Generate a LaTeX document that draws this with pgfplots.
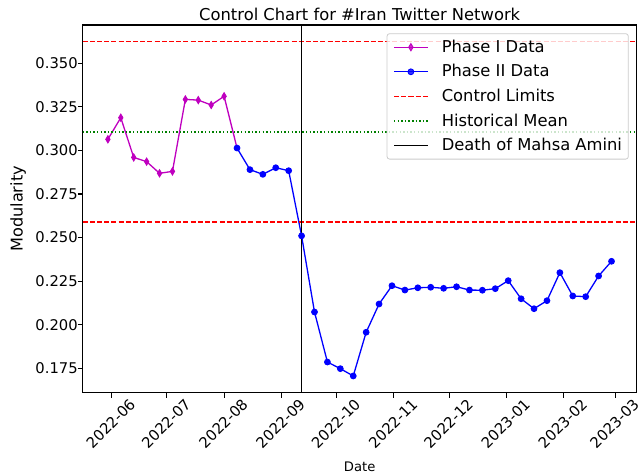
\documentclass[border=0pt]{standalone}
\usepackage{pgfplots}
\pgfplotsset{compat=1.18}
\usepackage{fontspec}
\setmainfont{DejaVu Sans}
\definecolor{mplm}{HTML}{BF00BF}
\definecolor{mplb}{HTML}{0000FF}
\definecolor{mplr}{HTML}{FF0000}
\definecolor{mplg}{HTML}{008000}
\pgfplotstableread{
x y
-2 0.3064
5 0.3188
12 0.2960
19 0.2936
26 0.2869
33 0.2880
40 0.3293
47 0.3289
54 0.3261
61 0.3311
}\phaseone
\pgfplotstableread{
x y
68 0.3014
75 0.2890
82 0.2863
89 0.2901
96 0.2884
103 0.2510
110 0.2073
117 0.1786
124 0.1748
131 0.1706
138 0.1957
145 0.2119
152 0.2224
159 0.2199
166 0.2212
173 0.2215
180 0.2209
187 0.2218
194 0.2199
201 0.2198
208 0.2207
215 0.2253
222 0.2149
229 0.2092
236 0.2138
243 0.2299
250 0.2165
257 0.2161
264 0.2280
271 0.2364
}\phasetwo
\begin{document}
\begin{tikzpicture}
\begin{axis}[
  at={(0,0)}, anchor=south west,
  scale only axis, width=554bp, height=367.7bp,
  xmin=-15.65, xmax=284.65, ymin=0.1610, ymax=0.3720,
  axis line style={line width=1.1bp},
  tick align=outside, xtick pos=bottom, ytick pos=left,
  major tick length=4.8bp,
  every tick/.style={black, line width=1.1bp},
  xtick={0,30,61,92,122,153,183,214,245,273},
  xticklabels={2022-06,2022-07,2022-08,2022-09,2022-10,2022-11,2022-12,2023-01,2023-02,2023-03},
  ytick={0.175,0.2,0.225,0.25,0.275,0.3,0.325,0.35},
  yticklabels={0.175,0.200,0.225,0.250,0.275,0.300,0.325,0.350},
  xticklabel style={font=\fontsize{14.8}{17}\selectfont, inner sep=0pt, xshift=17bp, anchor=north east, rotate=45},
  yticklabel style={font=\fontsize{14.8}{17}\selectfont, inner sep=0pt, anchor=east},
  title={Control Chart for \#Iran Twitter Network},
  every axis title/.style={at={(axis description cs:0.5,1)}, anchor=base, yshift=4.5bp, inner sep=0pt, font=\fontsize{16.4}{19}\selectfont},
  xlabel={Date},
  every axis x label/.style={at={(axis description cs:0.5,0)}, anchor=base, yshift=-78.5bp, inner sep=0pt, font=\fontsize{13.2}{16}\selectfont},
  ylabel={Modularity},
  every axis y label/.style={at={([xshift=-60bp]axis description cs:0,0.5)}, rotate=90, anchor=base, inner sep=0pt, font=\fontsize{16.2}{19}\selectfont},
  legend image code/.code={\draw[mark repeat=2, mark phase=2, #1] plot coordinates {(0bp,0bp) (16.85bp,0bp) (33.7bp,0bp)};},
  legend cell align=left,
  legend style={at={(axis description cs:1,1)}, anchor=north east, xshift=-8bp, yshift=-8.3bp,
    draw=black!20, line width=0.8bp, rounded corners=2.5bp, fill=white, fill opacity=0.8, text opacity=1,
    font=\fontsize{16.4}{19}\selectfont, inner xsep=6.3bp, inner ysep=4.5bp, row sep=6.6bp,
    nodes={inner sep=0pt, text height=14bp, text depth=4bp},
    /tikz/every odd column/.append style={column sep=13.3bp}},
]
\addplot[mplm, line width=1.3bp, forget plot] coordinates {(61,0.3311) (68,0.3014)};
\addplot[mplm, line width=1.3bp, mark=diamond*, mark size=3.6bp, mark options={xscale=0.8, solid, line width=0.9bp}] table[x=x, y=y] {\phaseone};
\addlegendentry{Phase I Data}
\addplot[mplb, line width=1.3bp, mark=*, mark size=2.9bp, mark options={solid, line width=0.9bp}] table[x=x, y=y] {\phasetwo};
\addlegendentry{Phase II Data}
\addplot[mplr, line width=1.4bp, dash pattern=on 5bp off 2.2bp] coordinates {(-15.65,0.3624) (284.65,0.3624)};
\addlegendentry{Control Limits}
\addplot[mplr, line width=1.4bp, dash pattern=on 5bp off 2.2bp, forget plot] coordinates {(-15.65,0.2590) (284.65,0.2590)};
\addplot[mplg, line width=1.4bp, dash pattern=on 1.4bp off 2.2bp] coordinates {(-15.65,0.3107) (284.65,0.3107)};
\addlegendentry{Historical Mean}
\addplot[black, line width=1.3bp] coordinates {(103,0.161) (103,0.372)};
\addlegendentry{Death of Mahsa Amini}
\end{axis}
\pgfresetboundingbox
\useasboundingbox (-82.7bp,-80.3bp) rectangle (560.3bp,392.7bp);
\end{tikzpicture}
\end{document}
